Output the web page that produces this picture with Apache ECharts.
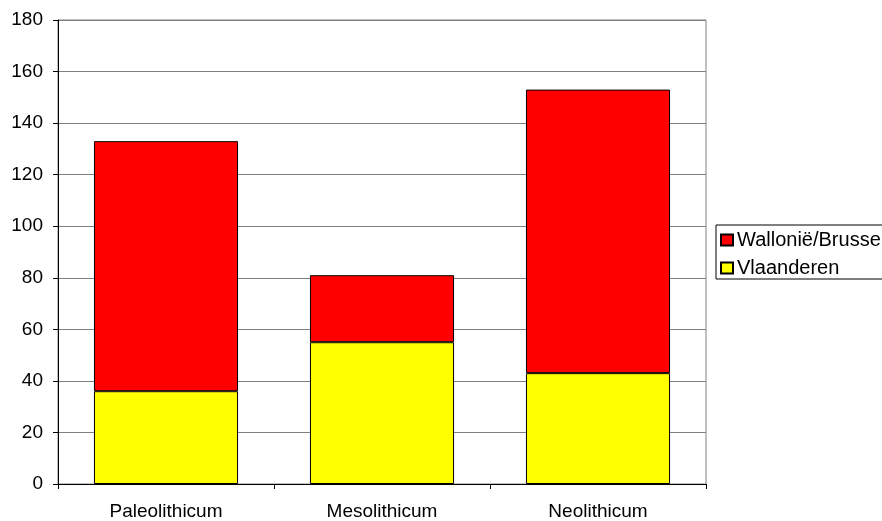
<!DOCTYPE html>
<html>
<head>
<meta charset="utf-8">
<script src="https://cdn.jsdelivr.net/npm/echarts@6/dist/echarts.min.js"></script>
<style>html,body{margin:0;padding:0;background:#fff}#c{width:882px;height:521px}</style>
</head>
<body>
<div id="c"></div>
<script>
const categories = ['Paleolithicum', 'Mesolithicum', 'Neolithicum'];
const vlaanderen = [36, 55, 43];
const wallonieBrussel = [97, 26, 110];
const yTicks = { min: 0, max: 180, interval: 20 };

const chart = echarts.init(document.getElementById('c'), null, { renderer: 'canvas' });
const font = 'Liberation Sans, Arial, sans-serif';
chart.setOption({
  animation: false,
  backgroundColor: '#fff',
  grid: { left: 58, right: 176, top: 20, bottom: 36, show: true, borderColor: '#808080', borderWidth: 1 },
  legend: {
    orient: 'vertical',
    left: 716, top: 225,
    padding: [5, 60, 1, 4],
    itemGap: 8,
    itemWidth: 12, itemHeight: 11,
    borderColor: '#000', borderWidth: 1,
    data: [
      { name: 'Wallonië/Brussel', icon: 'rect' },
      { name: 'Vlaanderen', icon: 'rect' }
    ],
    textStyle: { fontFamily: font, fontSize: 20, color: '#000', padding: [0, 0, 0, -1] }
  },
  xAxis: {
    type: 'category',
    data: categories,
    axisLine: { lineStyle: { color: '#000', width: 1 } },
    axisTick: { show: true, inside: false, length: 5, interval: 0, lineStyle: { color: '#000' } },
    axisLabel: { fontFamily: font, fontSize: 19, color: '#000', margin: 18 }
  },
  yAxis: {
    type: 'value',
    min: yTicks.min, max: yTicks.max, interval: yTicks.interval,
    axisLine: { show: true, lineStyle: { color: '#000', width: 1 } },
    axisTick: { show: true, inside: false, length: 5, lineStyle: { color: '#000' } },
    axisLabel: { fontFamily: font, fontSize: 19, color: '#000', margin: 15 },
    splitLine: { show: true, lineStyle: { color: '#808080', width: 1 } }
  },
  series: [
    {
      name: 'Vlaanderen', type: 'bar', stack: 'total', data: vlaanderen,
      barWidth: '66.7%',
      itemStyle: { color: '#ffff00', borderColor: '#000', borderWidth: 1 }
    },
    {
      name: 'Wallonië/Brussel', type: 'bar', stack: 'total', data: wallonieBrussel,
      barWidth: '66.7%',
      itemStyle: { color: '#ff0000', borderColor: '#000', borderWidth: 1 }
    }
  ]
});
</script>
</body>
</html>
